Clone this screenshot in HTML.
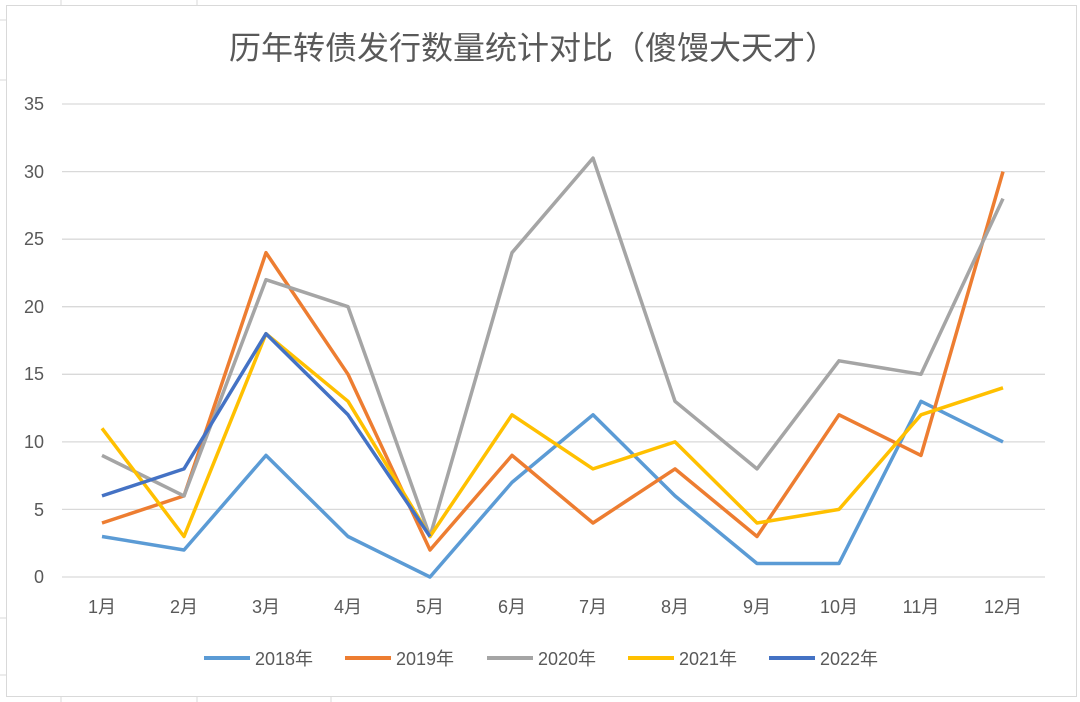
<!DOCTYPE html>
<html><head><meta charset="utf-8"><style>
body{margin:0;background:#fff;}
svg{display:block;font-family:"Liberation Sans","Noto Sans CJK SC",sans-serif;}
</style></head><body>
<svg width="1080" height="702" viewBox="0 0 1080 702">
<rect width="1080" height="702" fill="#fff"/>
<g stroke="#d9d9d9" stroke-width="1">
<line x1="61" y1="0" x2="61" y2="5"/><line x1="197" y1="0" x2="197" y2="5"/><line x1="61" y1="697" x2="61" y2="702"/><line x1="197" y1="697" x2="197" y2="702"/><line x1="331" y1="697" x2="331" y2="702"/><line x1="0" y1="20" x2="6" y2="20"/><line x1="0" y1="80" x2="6" y2="80"/><line x1="0" y1="618" x2="6" y2="618"/><line x1="0" y1="675" x2="6" y2="675"/>
</g>
<rect x="6.5" y="5.5" width="1070" height="691" fill="#fff" stroke="#d9d9d9"/>
<text x="533" y="59" text-anchor="middle" font-size="32" fill="#595959">历年转债发行数量统计对比（傻馒大天才）</text>
<g stroke="#d9d9d9" stroke-width="1.3">
<line x1="62" y1="104" x2="1045" y2="104"/><line x1="62" y1="171.6" x2="1045" y2="171.6"/><line x1="62" y1="239.2" x2="1045" y2="239.2"/><line x1="62" y1="306.7" x2="1045" y2="306.7"/><line x1="62" y1="374.3" x2="1045" y2="374.3"/><line x1="62" y1="441.9" x2="1045" y2="441.9"/><line x1="62" y1="509.4" x2="1045" y2="509.4"/><line x1="62" y1="577" x2="1045" y2="577"/>
</g>
<g font-size="18" fill="#595959" text-anchor="end">
<text x="44" y="110">35</text><text x="44" y="178">30</text><text x="44" y="245">25</text><text x="44" y="313">20</text><text x="44" y="380">15</text><text x="44" y="448">10</text><text x="44" y="516">5</text><text x="44" y="583">0</text>
</g>
<g font-size="18" fill="#595959" text-anchor="middle">
<text x="102" y="613">1月</text><text x="184" y="613">2月</text><text x="266" y="613">3月</text><text x="348" y="613">4月</text><text x="430" y="613">5月</text><text x="512" y="613">6月</text><text x="593" y="613">7月</text><text x="675" y="613">8月</text><text x="757" y="613">9月</text><text x="839" y="613">10月</text><text x="921" y="613">11月</text><text x="1003" y="613">12月</text>
</g>
<g fill="none" stroke-width="3.5" stroke-linejoin="round">
<polyline stroke="#5b9bd5" points="102,536.5 184,550 266,455.4 348,536.5 430,577 512,482.4 593,414.8 675,495.9 757,563.5 839,563.5 921,401.3 1003,441.9"/>
<polyline stroke="#ed7d31" points="102,523 184,495.9 266,252.7 348,374.3 430,550 512,455.4 593,523 675,468.9 757,536.5 839,414.8 921,455.4 1003,171.6"/>
<polyline stroke="#a5a5a5" points="102,455.4 184,495.9 266,279.7 348,306.7 430,536.5 512,252.7 593,158.1 675,401.3 757,468.9 839,360.8 921,374.3 1003,198.6"/>
<polyline stroke="#ffc000" points="102,428.3 184,536.5 266,333.7 348,401.3 430,536.5 512,414.8 593,468.9 675,441.9 757,523 839,509.4 921,414.8 1003,387.8"/>
<polyline stroke="#4472c4" points="102,495.9 184,468.9 266,333.7 348,414.8 430,536.5"/>
</g>
<g stroke-width="4">
<line x1="204" y1="658" x2="250" y2="658" stroke="#5b9bd5"/>
<line x1="345" y1="658" x2="391" y2="658" stroke="#ed7d31"/>
<line x1="487" y1="658" x2="533" y2="658" stroke="#a5a5a5"/>
<line x1="628" y1="658" x2="674" y2="658" stroke="#ffc000"/>
<line x1="769" y1="658" x2="815" y2="658" stroke="#4472c4"/>
</g>
<g font-size="18" fill="#595959">
<text x="255" y="665">2018年</text><text x="396" y="665">2019年</text><text x="538" y="665">2020年</text><text x="679" y="665">2021年</text><text x="820" y="665">2022年</text>
</g>
</svg>
</body></html>
